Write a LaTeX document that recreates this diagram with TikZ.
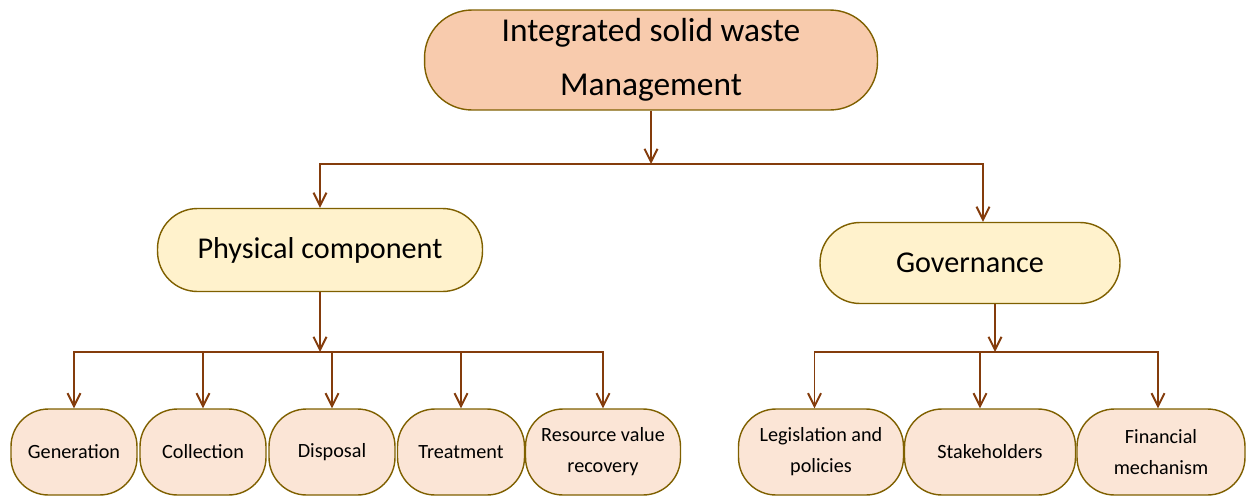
\documentclass[tikz,border=0pt]{standalone}
\usepackage{fontspec}
\setmainfont{Carlito}
\usepackage{tikz}
\usetikzlibrary{arrows.meta}
\definecolor{BoxLine}{RGB}{127, 96, 0}
\definecolor{LinkBrown}{RGB}{132, 60, 12}
\definecolor{PeachDark}{RGB}{248, 203, 173}
\definecolor{PeachLight}{RGB}{251, 229, 214}
\definecolor{Cream}{RGB}{255, 242, 204}

\begin{document}
\begin{tikzpicture}[
        x=0.02cm, y=-0.02cm,
        every node/.style={text=black},
        % box styles per level
        topbox/.style={rectangle, draw=BoxLine, line width=0.8pt, fill=PeachDark, rounded corners=0.95cm,
            minimum width=9.06cm, minimum height=2cm, inner sep=0pt, align=center,
            font=\fontsize{19}{30.6}\selectfont},
        midbox/.style={rectangle, draw=BoxLine, line width=0.8pt, fill=Cream, rounded corners=0.8cm,
            minimum height=1.66cm, inner sep=0pt, align=center,
            font=\fontsize{17.2}{21}\selectfont},
        leafbox/.style={rectangle, draw=BoxLine, line width=0.8pt, fill=PeachLight, rounded corners=0.75cm,
            minimum height=1.72cm, inner sep=0pt, align=center,
            font=\fontsize{11.5}{17.6}\selectfont},
        arrow/.style={draw=LinkBrown, line width=1.1pt, -{Straight Barb[length=0.26cm, width=0.26cm]}}
    ]
    \useasboundingbox (0,0) rectangle (1247,501);

    % Top node
    \node[topbox] (iswm) at (651,60) {\raisebox{-2pt}{Integrated solid waste}\\\raisebox{-2pt}{Management}};

    % Second level
    \node[midbox, minimum width=6.5cm] (phys) at (320,250) {Physical component};
    \node[midbox, minimum width=6cm, minimum height=1.62cm] (gov) at (970,263) {Governance};

    % Physical component leaves
    \node[leafbox, minimum width=2.52cm] (gen) at (74,452) {Generation};
    \node[leafbox, minimum width=2.52cm] (coll) at (203,452) {Collection};
    \node[leafbox, minimum width=2.52cm] (disp) at (332,452) {Disposal};
    \node[leafbox, minimum width=2.54cm] (treat) at (461,452) {Treatment};
    \node[leafbox, minimum width=3.1cm] (recov) at (603,452) {Resource value\\recovery};

    % Governance leaves
    \node[leafbox, minimum width=3.3cm] (legis) at (821,452) {Legislation and\\policies};
    \node[leafbox, minimum width=3.42cm] (stake) at (990,452) {Stakeholders};
    \node[leafbox, minimum width=3.36cm] (finan) at (1161,452) {Financial\\mechanism};

    % Bus points
    \coordinate (topbus) at (651,164);
    \coordinate (physbus) at (320,352);
    \coordinate (govbus) at (995,352);

    % Arrows
    \draw[arrow] (iswm) -- (topbus);
    \draw[arrow] (topbus) -| (phys);
    \draw[arrow] (topbus) -| ([xshift=0.26cm]gov.north);

    \draw[arrow] (phys) -- (physbus);
    \draw[arrow] (physbus) -| (gen);
    \draw[arrow] (physbus) -| (coll);
    \draw[arrow] (physbus) -| (disp);
    \draw[arrow] (physbus) -| (treat);
    \draw[arrow] (physbus) -| (recov);

    \draw[arrow] ([xshift=0.5cm]gov.south) -- (govbus);
    \draw[arrow] (govbus) -| ([xshift=-0.13cm]legis.north);
    \draw[arrow] (govbus) -| ([xshift=-0.2cm]stake.north);
    \draw[arrow] (govbus) -| ([xshift=-0.06cm]finan.north);

\end{tikzpicture}
\end{document}
